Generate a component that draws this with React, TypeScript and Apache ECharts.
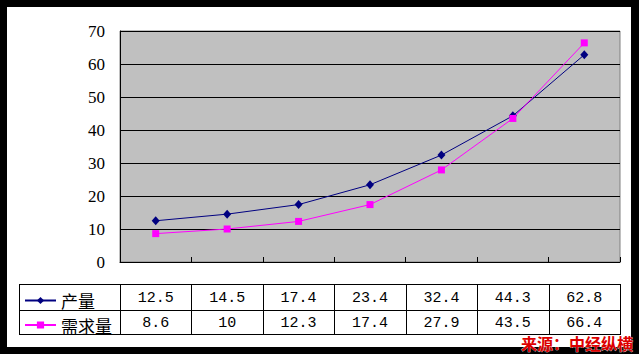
import React, { useEffect, useRef } from "react";
import * as echarts from "echarts";

const categories = ["1", "2", "3", "4", "5", "6", "7"];
const seriesNames = ["产量", "需求量"];
const production = [12.5, 14.5, 17.4, 23.4, 32.4, 44.3, 62.8];
const demand = [8.6, 10, 12.3, 17.4, 27.9, 43.5, 66.4];
const yMin = 0;
const yMax = 70;
const yInterval = 10;
const sourceText = "来源：中经纵横";

const W = 639;
const H = 354;

export default function App() {
  const ref = useRef<HTMLDivElement>(null);

  useEffect(() => {
    if (!ref.current) return;
    const chart = echarts.init(ref.current, null, { renderer: "svg", width: W, height: H });
    const cjk = "Noto Sans CJK SC";
    const legendBase = {
      orient: "vertical" as const,
      left: 24,
      padding: 0,
      itemWidth: 31,
      itemHeight: 9,
      textStyle: { fontFamily: cjk, fontSize: 17, color: "#000" },
    };
    chart.setOption({
      animation: false,
      backgroundColor: "transparent",
      grid: {
        left: 120,
        top: 31,
        width: 500,
        height: 231,
        show: true,
        backgroundColor: "#c0c0c0",
        borderColor: "#808080",
        borderWidth: 1,
        containLabel: false,
      },
      legend: [
        { ...legendBase, top: 292, data: [seriesNames[0]] },
        { ...legendBase, top: 316.5, data: [seriesNames[1]] },
      ],
      xAxis: {
        type: "category",
        data: categories,
        boundaryGap: true,
        axisLine: { show: true, lineStyle: { color: "#000", width: 1 } },
        axisTick: { show: true, inside: true, length: 5, interval: 0, lineStyle: { color: "#000" } },
        axisLabel: { show: false },
        splitLine: { show: false },
      },
      yAxis: {
        type: "value",
        min: yMin,
        max: yMax,
        interval: yInterval,
        axisLine: { show: true, lineStyle: { color: "#000", width: 1 } },
        axisTick: { show: true, inside: true, length: 6, lineStyle: { color: "#000" } },
        axisLabel: { fontFamily: "Liberation Serif", fontSize: 17, color: "#000", margin: 15 },
        splitLine: { show: true, lineStyle: { color: "#000", width: 1 } },
      },
      series: [
        {
          name: seriesNames[0],
          type: "line",
          data: production,
          symbol: "diamond",
          symbolSize: [8, 9],
          lineStyle: { color: "#000080", width: 1 },
          itemStyle: { color: "#000080" },
        },
        {
          name: seriesNames[1],
          type: "line",
          data: demand,
          symbol: "rect",
          symbolSize: 7,
          lineStyle: { color: "#ff00ff", width: 1 },
          itemStyle: { color: "#ff00ff" },
        },
      ],
    });

    // Build the data table from the axis scale
    const centers = categories.map((_, i) => chart.convertToPixel({ xAxisIndex: 0 }, i) as number);
    const band = centers.length > 1 ? centers[1] - centers[0] : 500;
    const tableLeft = 19;
    const tTop = 284;
    const tMid = 310;
    const tBot = 334;
    const bounds = centers.map((c) => c - band / 2);
    const tableRight = centers[centers.length - 1] + band / 2;
    const lineStyle = { stroke: "#000", lineWidth: 1 };
    const elements: any[] = [
      {
        type: "rect",
        z: -100,
        shape: { x: 7, y: 7, width: 624, height: 340 },
        style: { fill: "#fff" },
        silent: true,
      },
    ];
    [tTop, tMid, tBot].forEach((y) => {
      elements.push({
        type: "line",
        shape: { x1: tableLeft, y1: y + 0.5, x2: tableRight, y2: y + 0.5 },
        style: lineStyle,
      });
    });
    [tableLeft, ...bounds, tableRight].forEach((x) => {
      const xx = Math.round(x) + 0.5;
      elements.push({
        type: "line",
        shape: { x1: xx, y1: tTop, x2: xx, y2: tBot + 1 },
        style: lineStyle,
      });
    });
    const mono = "15px 'Liberation Mono', monospace";
    [production, demand].forEach((arr, r) => {
      arr.forEach((v, i) => {
        elements.push({
          type: "text",
          style: {
            text: String(v),
            x: centers[i],
            y: r === 0 ? 298.5 : 323.5,
            align: "center",
            verticalAlign: "middle",
            font: mono,
            fill: "#000",
          },
        });
      });
    });
    elements.push({
      type: "text",
      style: {
        text: sourceText,
        x: 633,
        y: 343,
        align: "right",
        verticalAlign: "middle",
        font: "bold 16px 'Noto Sans CJK SC', sans-serif",
        fill: "#dd0000",
        stroke: "#ffffff",
        lineWidth: 0.5,
      },
    });
    chart.setOption({ graphic: { elements } });

    return () => chart.dispose();
  }, []);

  return (
    <div style={{ position: "fixed", left: 0, top: 0, width: W, height: H, background: "#000" }}>
      <div ref={ref} style={{ width: W, height: H }} />
    </div>
  );
}
